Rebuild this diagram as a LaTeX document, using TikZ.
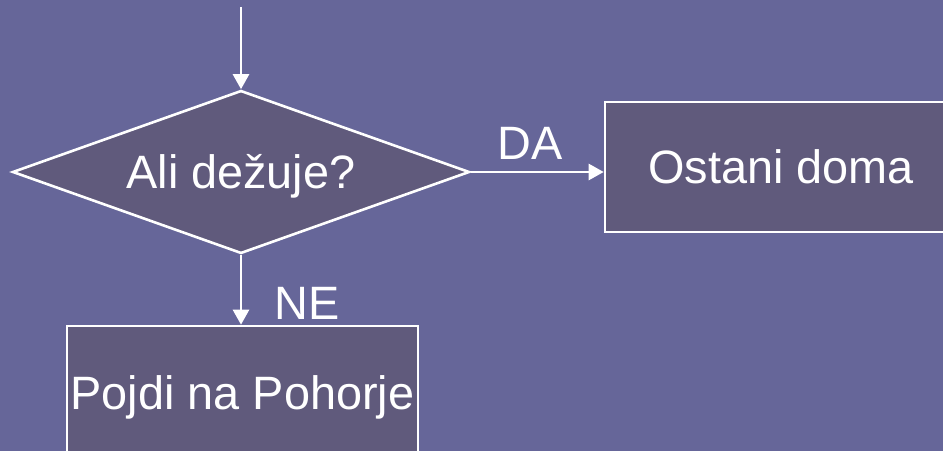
\documentclass[tikz,border=0pt]{standalone}
\usepackage{fontspec}
\setmainfont{Liberation Sans}
\usetikzlibrary{shapes.geometric,arrows.meta}
\definecolor{slidebg}{HTML}{666699}
\definecolor{boxfill}{HTML}{605A7C}
\begin{document}
\begin{tikzpicture}[x=1bp,y=-1bp,
  every node/.style={text=white,font=\fontsize{47}{56}\selectfont,
    text height=33.6bp,text depth=0pt},
  flow/.style={draw=white,line width=2.6bp,fill=boxfill,inner sep=0pt},
  decision/.style={flow,diamond,shape aspect=2.8,minimum width=457bp,minimum height=163bp},
  action/.style={flow,rectangle,minimum width=352bp,minimum height=130bp},
  link/.style={draw=white,line width=2.6bp,-{Triangle[length=15bp,width=16bp]}},
  lbl/.style={inner sep=0pt,anchor=base}]
  \useasboundingbox (0,0) rectangle (943,451);
  \fill[slidebg] (0,0) rectangle (943,451);
  \begin{scope}
    \clip (0,0) rectangle (943,451);
    % decision and the two outcomes
    \node[decision] (q) at (241,172) {Ali dežuje?};
    \node[action] (stay) at (781,167) {Ostani doma};
    \node[action, minimum width=351bp, minimum height=134bp] (go) at (242.5,393) {Pojdi na Pohorje};
    % incoming flow
    \coordinate (in) at (241,7);
    \draw[link] (in) -- (q.north);
    % branches
    \draw[link] (q.east) -- (q.east -| stay.west);
    \draw[link] (q.south) -- (q.south |- go.north);
    \node[lbl] (da) at (530,160) {DA};
    \node[lbl] (ne) at (307,320) {NE};
  \end{scope}
\end{tikzpicture}
\end{document}
